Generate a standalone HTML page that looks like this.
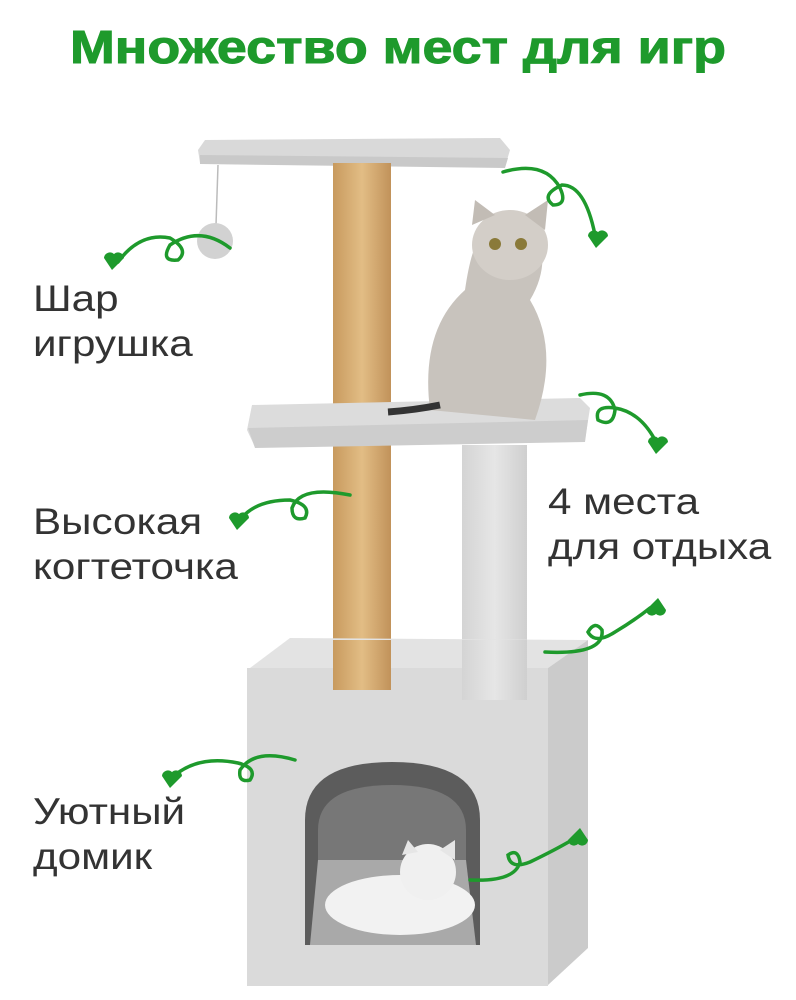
<!DOCTYPE html>
<html><head><meta charset="utf-8">
<style>
html,body{margin:0;padding:0;background:#fff;}
body{width:796px;height:1000px;position:relative;overflow:hidden;font-family:"Liberation Sans",sans-serif;}
.t{position:absolute;left:0;width:796px;top:20px;text-align:center;font-size:46px;font-weight:900;color:#1e9a2c;transform:scaleX(1.17);transform-origin:398px 0;-webkit-text-stroke:1px #1e9a2c;}
.l{position:absolute;font-size:37px;color:#333;line-height:45px;transform:scaleX(1.14);transform-origin:0 0;white-space:nowrap;}
svg{position:absolute;left:0;top:0;}
</style></head><body>
<svg width="796" height="1000" viewBox="0 0 796 1000">
 <defs>
  <linearGradient id="sis" x1="0" x2="1"><stop offset="0" stop-color="#c89a5e"/><stop offset=".5" stop-color="#e2bd85"/><stop offset="1" stop-color="#c1925a"/></linearGradient>
  <linearGradient id="gp" x1="0" x2="1"><stop offset="0" stop-color="#d4d4d4"/><stop offset=".5" stop-color="#e6e6e6"/><stop offset="1" stop-color="#cfcfcf"/></linearGradient>
 </defs>
 <path d="M205 140 L500 138 L510 150 L505 167 L200 163 L198 150 Z" fill="#d9d9d9"/>
 <path d="M200 155 L508 158 L505 168 L200 164Z" fill="#c9c9c9"/>
 <line x1="218" y1="165" x2="216" y2="225" stroke="#bbb" stroke-width="1.5"/>
 <circle cx="215" cy="241" r="18" fill="#d2d2d2"/>
 <rect x="333" y="163" width="58" height="245" fill="url(#sis)"/>
 <rect x="333" y="445" width="58" height="245" fill="url(#sis)"/>
 <path d="M252 405 L580 398 L590 408 L585 440 L255 447 L247 430 Z" fill="#dcdcdc"/>
 <path d="M248 428 L588 420 L585 442 L255 448Z" fill="#cdcdcd"/>
 <rect x="462" y="445" width="65" height="255" fill="url(#gp)"/>
 <path d="M250 668 L290 638 L588 640 L548 668 Z" fill="#e3e3e3"/>
 <path d="M548 668 L588 640 L588 948 L548 985 Z" fill="#cbcbcb"/>
 <rect x="247" y="668" width="301" height="318" fill="#dadada"/>
 <rect x="333" y="640" width="58" height="50" fill="url(#sis)"/>
 <rect x="462" y="640" width="65" height="60" fill="url(#gp)"/>
 <path d="M305 945 L305 820 Q305 762 392 762 Q480 762 480 820 L480 945 Z" fill="#5c5c5c"/>
 <path d="M318 945 L318 830 Q318 785 392 785 Q466 785 466 830 L466 945 Z" fill="#777"/>
 <path d="M310 945 L318 860 L466 860 L476 945Z" fill="#a9a9a9"/>
 <ellipse cx="400" cy="905" rx="75" ry="30" fill="#f2f2f2"/>
 <circle cx="428" cy="872" r="28" fill="#f0f0f0"/>
 <path d="M402 855 L408 840 L418 852Z M440 850 L455 840 L455 860Z" fill="#e6e6e6"/>
 <path d="M430 410 Q420 330 465 290 Q470 255 478 240 Q510 225 540 240 Q548 270 530 300 Q560 350 535 420 Z" fill="#c8c3bd"/>
 <ellipse cx="510" cy="245" rx="38" ry="35" fill="#d3cec8"/>
 <path d="M472 225 L475 200 L495 215Z M525 215 L548 200 L545 230Z" fill="#c2bcb5"/>
 <circle cx="495" cy="244" r="6" fill="#8a7a3a"/><circle cx="521" cy="244" r="6" fill="#8a7a3a"/>
 <path d="M440 405 Q415 410 388 412" stroke="#333" stroke-width="7" fill="none"/>
 <g fill="none" stroke="#1e9a2c" stroke-width="3.5" stroke-linecap="round">
  <path d="M230 248 Q200 225 170 245 Q160 262 178 260 Q190 250 170 238 Q140 232 118 262"/>
  <path d="M503 172 Q545 160 560 188 Q568 205 553 205 Q540 195 562 185 Q585 185 595 235"/>
  <path d="M580 395 Q610 388 615 410 Q613 428 598 420 Q594 405 615 408 Q640 412 655 440"/>
  <path d="M350 495 Q300 485 292 508 Q292 522 305 518 Q312 505 290 500 Q255 500 240 520"/>
  <path d="M545 652 Q605 655 602 630 Q595 620 588 632 Q595 645 615 632 Q635 620 650 608"/>
  <path d="M295 760 Q255 748 240 770 Q238 783 250 780 Q258 768 238 763 Q200 755 175 775"/>
  <path d="M470 880 Q515 882 520 862 Q518 848 508 855 Q510 870 530 862 Q555 850 572 840"/>
 </g>
 <g fill="#1e9a2c">
  <path d="M112 270 l-8 -12 a6 6 0 0 1 10 -4 a6 6 0 0 1 10 4 z"/>
  <path d="M596 248 l-8 -12 a6 6 0 0 1 10 -4 a6 6 0 0 1 10 4 z"/>
  <path d="M656 454 l-8 -12 a6 6 0 0 1 10 -4 a6 6 0 0 1 10 4 z"/>
  <path d="M237 530 l-8 -12 a6 6 0 0 1 10 -4 a6 6 0 0 1 10 4 z"/>
  <path d="M658 598 l8 12 a6 6 0 0 1 -10 4 a6 6 0 0 1 -10 -4 z"/>
  <path d="M170 788 l-8 -12 a6 6 0 0 1 10 -4 a6 6 0 0 1 10 4 z"/>
  <path d="M580 828 l8 12 a6 6 0 0 1 -10 4 a6 6 0 0 1 -10 -4 z"/>
 </g>
</svg>
<div class="t">Множество мест для игр</div>
<div class="l" style="left:33px;top:276px;">Шар<br>игрушка</div>
<div class="l" style="left:33px;top:499px;">Высокая<br>когтеточка</div>
<div class="l" style="left:548px;top:479px;">4 места<br>для отдыха</div>
<div class="l" style="left:33px;top:789px;">Уютный<br>домик</div>
</body></html>
